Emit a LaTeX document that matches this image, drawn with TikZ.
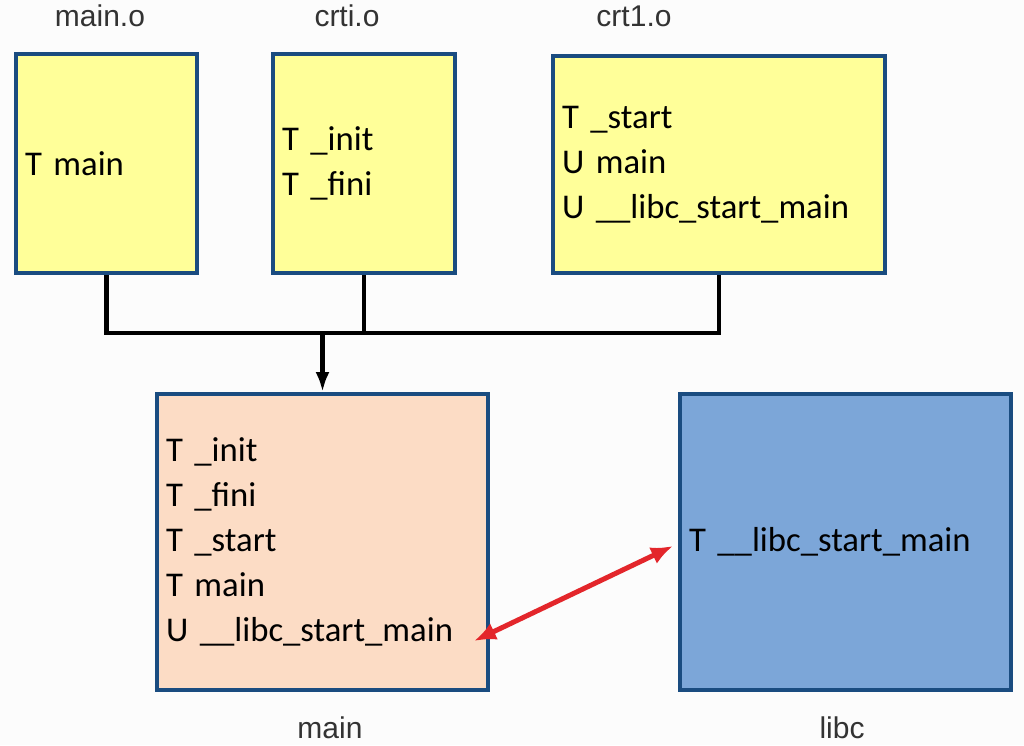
\documentclass[tikz,border=0pt]{standalone}
\usepackage{fontspec}
\setmainfont{Carlito}
\newfontfamily\labelfont{Liberation Sans}
\usetikzlibrary{arrows.meta,calc}
\definecolor{bordc}{HTML}{1A4C80}
\definecolor{yellowf}{HTML}{FFFF99}
\definecolor{peachf}{HTML}{FCDCC5}
\definecolor{bluef}{HTML}{7CA6D8}
\definecolor{redarr}{HTML}{E3262B}
\definecolor{labelc}{HTML}{333333}
\definecolor{bgc}{HTML}{FCFCFC}
\newcommand\myboxfont{\fontsize{34.7}{45}\selectfont\spaceskip=5.8pt\relax}
\begin{document}
\begin{tikzpicture}[x=1pt,y=-1pt,
  box/.style={draw=bordc, line width=4pt, rectangle, inner xsep=9pt, inner ysep=0pt,
    align=left, anchor=north west, font=\myboxfont, text=black},
  lbl/.style={font=\labelfont\fontsize{30}{36}\selectfont, text=labelc, anchor=base, inner sep=0pt},
  bus/.style={line width=4.2pt, black},
  redline/.style={line width=5pt, redarr, {Latex[length=22pt,width=18pt]}-{Latex[length=22pt,width=18pt]}}
]
\fill[bgc] (0,0) rectangle (1024,745);
\useasboundingbox (0,0) rectangle (1024,745);

\node[box, fill=yellowf, text width=163pt, minimum height=219pt] (mo) at (14,52) {T main};
\node[box, fill=yellowf, text width=164pt, minimum height=219pt] (ci) at (271,52) {T \_init\\T \_fini};
\node[box, fill=yellowf, text width=314pt, minimum height=217pt] (c1) at (551,54) {T \_start\\U main\\U \_\_libc\_start\_main};
\node[box, fill=peachf, text width=313pt, minimum height=296pt] (m) at (155,392) {T \_init\\T \_fini\\T \_start\\T main\\U \_\_libc\_start\_main};
\node[box, fill=bluef, text width=313pt, minimum height=296pt] (lc) at (678,392) {T \_\_libc\_start\_main};

\node[lbl] (lmo) at (100,26) {main.o};
\node[lbl] (lci) at (347,26) {crti.o};
\node[lbl] (lc1) at (634,26) {crt1.o};
\node[lbl] (lm) at (330,738) {main};
\node[lbl] (llc) at (842,738) {libc};

\coordinate (busy) at (0,333);
\draw[bus] (mo.south) -- (mo.south |- busy) -- (c1.south |- busy) -- (c1.south);
\draw[bus] (ci.south) -- (ci.south |- busy);
\draw[bus, -{Latex[length=20pt,width=14pt]}] (m.north |- busy) -- (m.north);

\coordinate (r1) at (474,641);
\coordinate (r2) at (673,546);
\draw[redline] (r1) -- (r2);
\end{tikzpicture}
\end{document}
